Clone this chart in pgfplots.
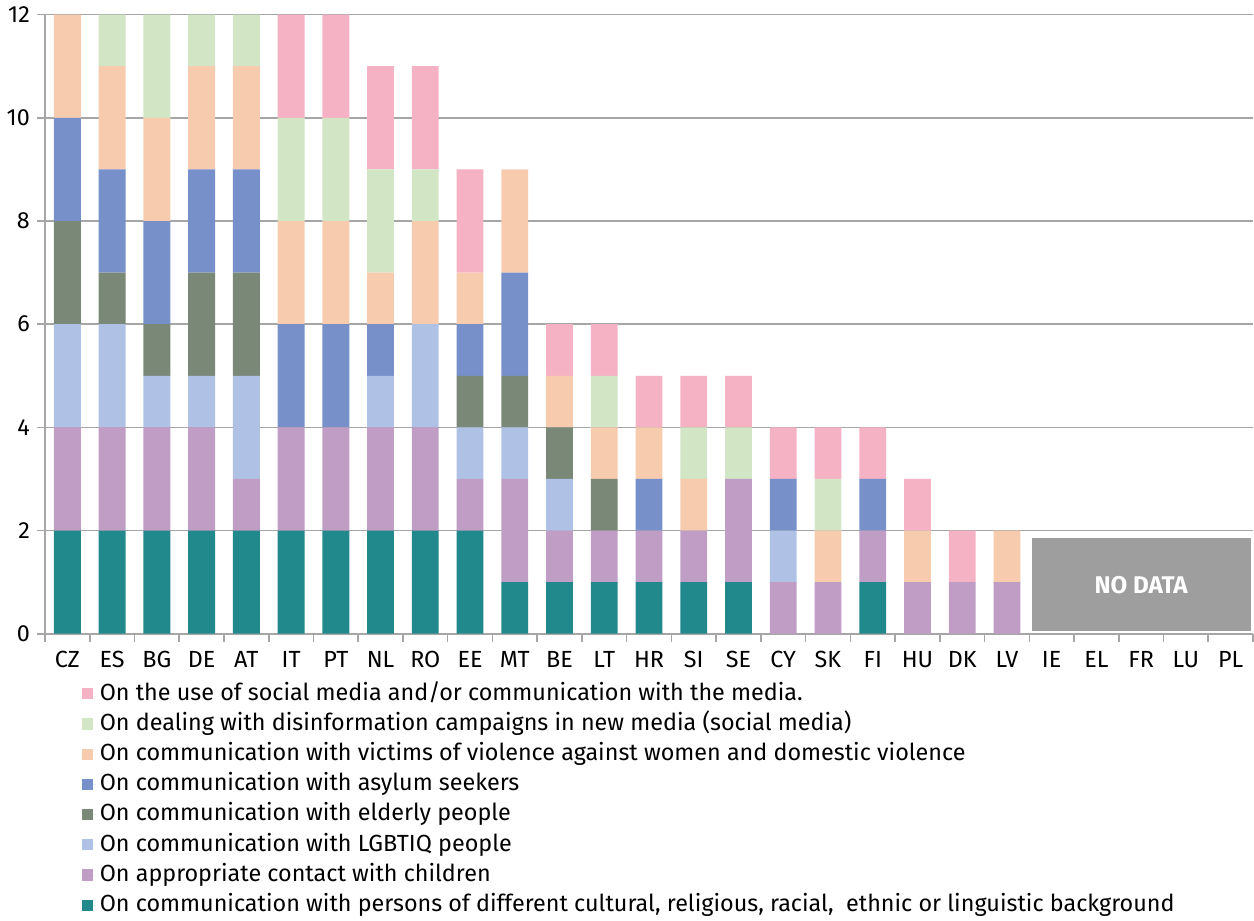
\documentclass[border=0pt]{standalone}
\usepackage{fontspec}
\setmainfont{Fira Sans}
\usepackage{pgfplots}
\usepackage{pgfplotstable}
\pgfplotsset{compat=1.18}

\definecolor{cTeal}{HTML}{21898B}
\definecolor{cChild}{HTML}{BF9DC5}
\definecolor{cLgbt}{HTML}{AFC2E6}
\definecolor{cOld}{HTML}{7A8878}
\definecolor{cAsyl}{HTML}{7790CA}
\definecolor{cViol}{HTML}{F7CBAD}
\definecolor{cDis}{HTML}{D2E5C5}
\definecolor{cSoc}{HTML}{F5B2C5}
\definecolor{gridgray}{HTML}{A6A6A6}
\definecolor{nodata}{HTML}{9E9E9E}

% columns: cultural, children, lgbtiq, elderly, asylum, violence, disinfo, social
\pgfplotstableread{
x  cul chi lgb eld asy vio dis soc
0  2 2 2 2 2 2 0 0
1  2 2 2 1 2 2 1 0
2  2 2 1 1 2 2 2 0
3  2 2 1 2 2 2 1 0
4  2 1 2 2 2 2 1 0
5  2 2 0 0 2 2 2 2
6  2 2 0 0 2 2 2 2
7  2 2 1 0 1 1 2 2
8  2 2 2 0 0 2 1 2
9  2 1 1 1 1 1 0 2
10 1 2 1 1 2 2 0 0
11 1 1 1 1 0 1 0 1
12 1 1 0 1 0 1 1 1
13 1 1 0 0 1 1 0 1
14 1 1 0 0 0 1 1 1
15 1 2 0 0 0 0 1 1
16 0 1 1 0 1 0 0 1
17 0 1 0 0 0 1 1 1
18 1 1 0 0 1 0 0 1
19 0 1 0 0 0 1 0 1
20 0 1 0 0 0 0 0 1
21 0 1 0 0 0 1 0 0
}\trainings

\begin{document}
\begin{tikzpicture}
\begin{axis}[
  scale only axis,
  width=600pt, height=307.5pt,
  ybar stacked,
  bar width=0.6,
  xmin=-0.5, xmax=26.5,
  ymin=0, ymax=12,
  ytick={0,2,...,12},
  xtick={0,...,26},
  xticklabels={CZ,ES,BG,DE,AT,IT,PT,NL,RO,EE,MT,BE,LT,HR,SI,SE,CY,SK,FI,HU,DK,LV,IE,EL,FR,LU,PL},
  minor xtick={-0.5,0.5,...,26.5},
  major x tick style={draw=none},
  minor x tick style={draw=gridgray, line width=0.8pt},
  major y tick style={draw=gridgray, line width=0.8pt},
  tick align=outside,
  major tick length=4pt, minor tick length=4pt,
  axis lines*=left,
  axis line style={draw=gridgray, line width=1pt},
  ymajorgrids,
  grid style={draw=gridgray, line width=0.8pt},
  tick label style={font=\fontsize{11.6}{13}\selectfont},
  /pgf/number format/assume math mode=true,
  xticklabel style={yshift=-1pt},
  reverse legend,
  legend cell align=left,
  legend style={at={(0.03,-0.072)}, anchor=north west, draw=none, fill=none,
    inner sep=0pt, font=\fontsize{11.6}{13}\selectfont, row sep=0pt,
    nodes={text height=8.6pt, text depth=2.4pt, inner ysep=2pt}},
  legend image code/.code={\fill[#1] (0pt,-2.8pt) rectangle (5.6pt,2.8pt); \path (0pt,0pt) -- (7pt,0pt);},
  every axis plot/.append style={draw=none},
]
\addplot[fill=cTeal]  table[x=x,y=cul] {\trainings};
\addlegendentry{On communication with persons of different cultural, religious, racial,\ \ ethnic or linguistic background}
\addplot[fill=cChild] table[x=x,y=chi] {\trainings};
\addlegendentry{On appropriate contact with children}
\addplot[fill=cLgbt]  table[x=x,y=lgb] {\trainings};
\addlegendentry{On communication with LGBTIQ people}
\addplot[fill=cOld]   table[x=x,y=eld] {\trainings};
\addlegendentry{On communication with elderly people}
\addplot[fill=cAsyl]  table[x=x,y=asy] {\trainings};
\addlegendentry{On communication with asylum seekers}
\addplot[fill=cViol]  table[x=x,y=vio] {\trainings};
\addlegendentry{On communication with victims of violence against women and domestic violence}
\addplot[fill=cDis]   table[x=x,y=dis] {\trainings};
\addlegendentry{On dealing with disinformation campaigns in new media (social media)}
\addplot[fill=cSoc]   table[x=x,y=soc] {\trainings};
\addlegendentry{On the use of social media and/or communication with the media.}

\node[fill=nodata, text=white, inner sep=0pt, minimum width=108.9pt, minimum height=46.1pt,
  font=\fontsize{12}{14}\selectfont\bfseries] at (axis cs:24.0,0.95) {NO DATA};
\end{axis}
\end{tikzpicture}
\end{document}
